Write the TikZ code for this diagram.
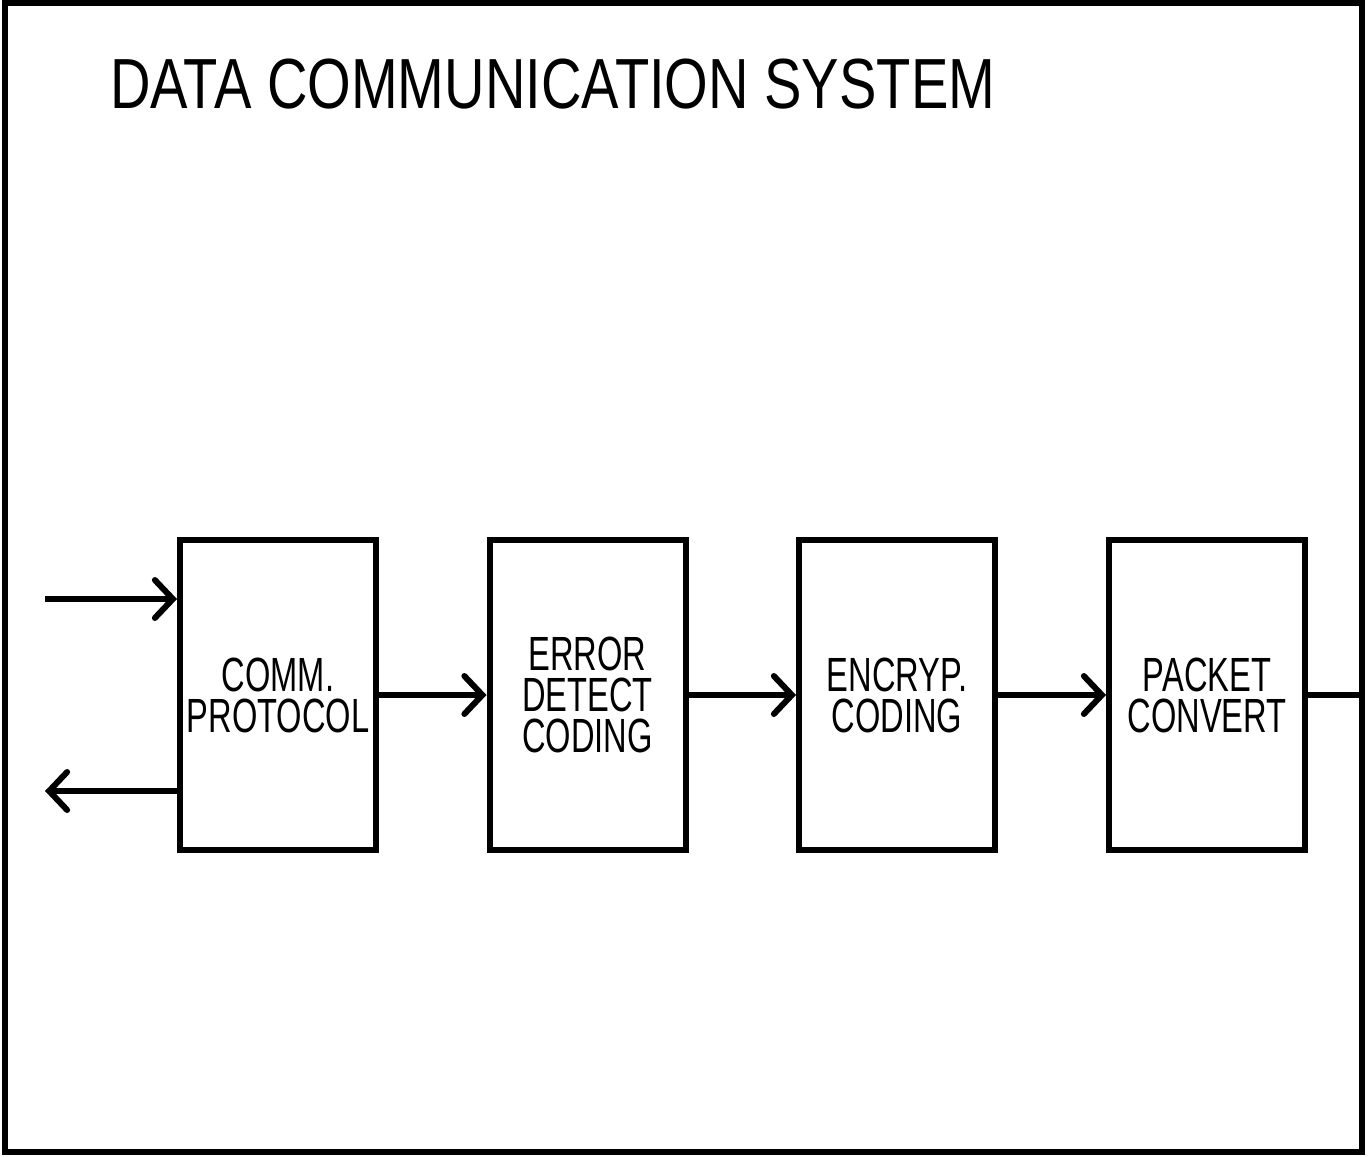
\documentclass[tikz,border=0pt]{standalone}
\usepackage{fontspec}
\setmainfont{Liberation Sans}
\newfontfamily\titlefont[FakeStretch=0.79]{Liberation Sans}
\newfontfamily\boxfont[FakeStretch=0.68]{Liberation Sans}
\usetikzlibrary{arrows.meta}
\begin{document}
\begin{tikzpicture}[x=1pt,y=-1pt,
  blk/.style={draw,line width=6pt,minimum width=196pt,minimum height=310pt,inner sep=0pt,
    align=center,font=\boxfont\fontsize{48}{41}\selectfont},
  conn/.style={line width=6pt,-{Straight Barb[length=18pt,width=38pt,line cap=round,line join=miter]}},
  plain/.style={line width=6pt}]
\useasboundingbox (0,0) rectangle (1370,1156);
\draw[line width=6pt] (5,3) rectangle (1362,1152);
\node[anchor=base west,inner sep=0pt,font=\titlefont\fontsize{71}{71}\selectfont] (title) at (110,108) {DATA COMMUNICATION SYSTEM};
\node[blk] (b1) at (278,695) {COMM.\\PROTOCOL};
\node[blk] (b2) at (587.5,695) {ERROR\\DETECT\\CODING};
\node[blk] (b3) at (897,695) {ENCRYP.\\CODING};
\node[blk] (b4) at (1207,695) {PACKET\\CONVERT};
\coordinate (in) at (45,599);
\coordinate (out) at (45,791);
\coordinate (frameR) at (1362,695);
\draw[conn] (in) -- (in -| b1.west);
\draw[conn] (out -| b1.west) -- (out);
\draw[conn] (b1.east) -- (b2.west);
\draw[conn] (b2.east) -- (b3.west);
\draw[conn] (b3.east) -- (b4.west);
\draw[plain] (b4.east) -- (b4.east -| frameR);
\end{tikzpicture}
\end{document}
